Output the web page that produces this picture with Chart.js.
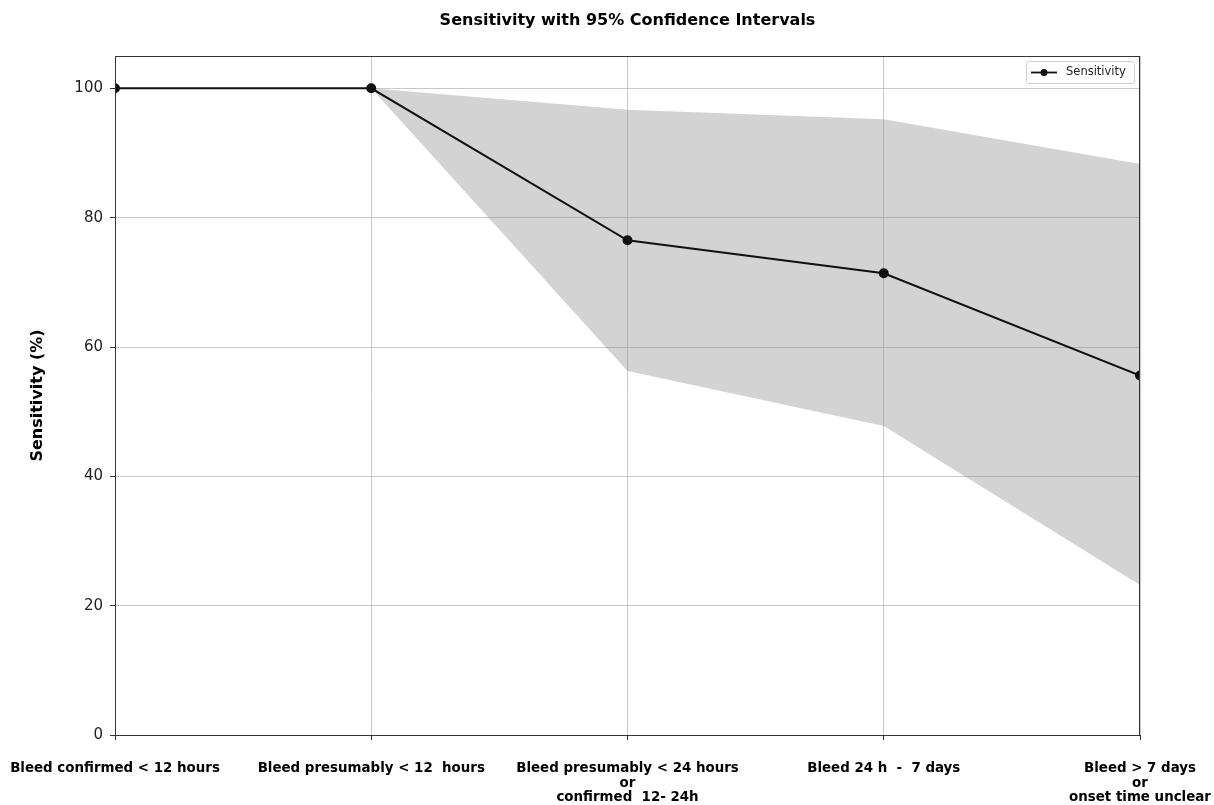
<!DOCTYPE html>
<html>
<head>
<meta charset="utf-8">
<script src="https://cdn.jsdelivr.net/npm/chart.js@4.4.1/dist/chart.umd.min.js"></script>
<style>
  html, body { margin: 0; padding: 0; background: #fff; }
  #wrap { width: 1214px; height: 805px; }
</style>
</head>
<body>
<div id="wrap"><canvas id="sensChart" width="1214" height="805"></canvas></div>
<script>
// Data
const categories = [
  "Bleed confirmed < 12 hours",
  "Bleed presumably < 12  hours",
  ["Bleed presumably < 24 hours", "or", "confirmed  12- 24h"],
  "Bleed 24 h  -  7 days",
  ["Bleed > 7 days", "or", "onset time unclear"],
];
const sensitivity = [100, 100, 76.5, 71.4, 55.6];
const ciLower = [100, 100, 56.3, 47.8, 23.2];
const ciUpper = [100, 100, 96.7, 95.2, 88.3];
const yTicks = [0, 20, 40, 60, 80, 100];

const chartTitle = "Sensitivity with 95% Confidence Intervals";
const FONT = "'DejaVu Sans', sans-serif";

// title, top/right spines and the legend box
const extras = {
  id: "extras",
  afterDraw(chart) {
    const { ctx, chartArea: a } = chart;
    ctx.save();
    // spines
    ctx.strokeStyle = "#333";
    ctx.lineWidth = 1;
    ctx.strokeRect(a.left + 0.5, a.top + 0.5, a.right - a.left - 1, a.bottom - a.top);

    // title
    ctx.fillStyle = "#000";
    ctx.font = "bold 16px " + FONT;
    ctx.textAlign = "center";
    ctx.textBaseline = "middle";
    ctx.fillText(chartTitle, (a.left + a.right) / 2, 21);

    // legend
    const bx = a.right - 114, by = a.top + 5, bw = 108, bh = 22;
    ctx.fillStyle = "rgba(255,255,255,0.8)";
    ctx.strokeStyle = "#d0d0d0";
    ctx.beginPath();
    ctx.roundRect(bx + 0.5, by + 0.5, bw, bh, 2);
    ctx.fill();
    ctx.stroke();
    const ly = by + bh / 2 + 0.5;
    ctx.strokeStyle = "#111";
    ctx.lineWidth = 1.8;
    ctx.beginPath();
    ctx.moveTo(bx + 5, ly);
    ctx.lineTo(bx + 31, ly);
    ctx.stroke();
    ctx.fillStyle = "#111";
    ctx.beginPath();
    ctx.arc(bx + 18, ly, 3.5, 0, Math.PI * 2);
    ctx.fill();
    ctx.fillStyle = "#222";
    ctx.font = "11.5px " + FONT;
    ctx.textAlign = "left";
    ctx.fillText(chart.data.datasets[0].label, bx + 40, ly);
    ctx.restore();
  },
};

const ctx = document.getElementById("sensChart").getContext("2d");
new Chart(ctx, {
  type: "line",
  data: {
    labels: categories,
    datasets: [
      {
        label: "Sensitivity",
        data: sensitivity,
        borderColor: "#111",
        backgroundColor: "#111",
        borderWidth: 2,
        pointRadius: 4,
        pointHoverRadius: 4,
        tension: 0,
        fill: false,
        clip: 0,
      },
      {
        label: "Upper CI",
        data: ciUpper,
        borderWidth: 0,
        borderColor: "rgba(0,0,0,0)",
        pointRadius: 0,
        backgroundColor: "rgba(128,128,128,0.35)",
        fill: "+1",
        tension: 0,
      },
      {
        label: "Lower CI",
        data: ciLower,
        borderWidth: 0,
        borderColor: "rgba(0,0,0,0)",
        pointRadius: 0,
        fill: false,
        tension: 0,
      },
    ],
  },
  options: {
    responsive: false,
    animation: false,
    layout: { padding: { top: 56, left: 0, right: 74, bottom: 0 } },
    plugins: {
      legend: { display: false },
      title: { display: false },
      tooltip: { enabled: false },
    },
    scales: {
      x: {
        type: "category",
        offset: false,
        afterFit: (s) => {
          s.height = 70;
          s.paddingLeft = 0;
          s.paddingRight = 0;
        },
        grid: { color: "#c8c8c8", lineWidth: 1, tickLength: 5, tickColor: "#333" },
        border: { color: "#333", width: 1 },
        ticks: {
          autoSkip: false,
          maxRotation: 0,
          minRotation: 0,
          padding: 21,
          color: "#000",
          font: { family: FONT, size: 13.4, weight: "bold", lineHeight: 1.1 },
        },
      },
      y: {
        min: 0,
        max: 105,
        afterFit: (s) => {
          s.width = 115;
          s.paddingTop = 0;
          s.paddingBottom = 0;
        },
        afterBuildTicks: (s) => { s.ticks = yTicks.map((v) => ({ value: v })); },
        grid: { color: "#c8c8c8", lineWidth: 1, tickLength: 5, tickColor: "#333" },
        border: { color: "#333", width: 1 },
        ticks: {
          padding: 7,
          color: "#222",
          font: { family: FONT, size: 15 },
        },
        title: {
          display: true,
          text: "Sensitivity (%)",
          color: "#000",
          font: { family: FONT, size: 16, weight: "bold" },
          padding: { top: 28, bottom: 4 },
        },
      },
    },
  },
  plugins: [extras],
});
</script>
</body>
</html>
